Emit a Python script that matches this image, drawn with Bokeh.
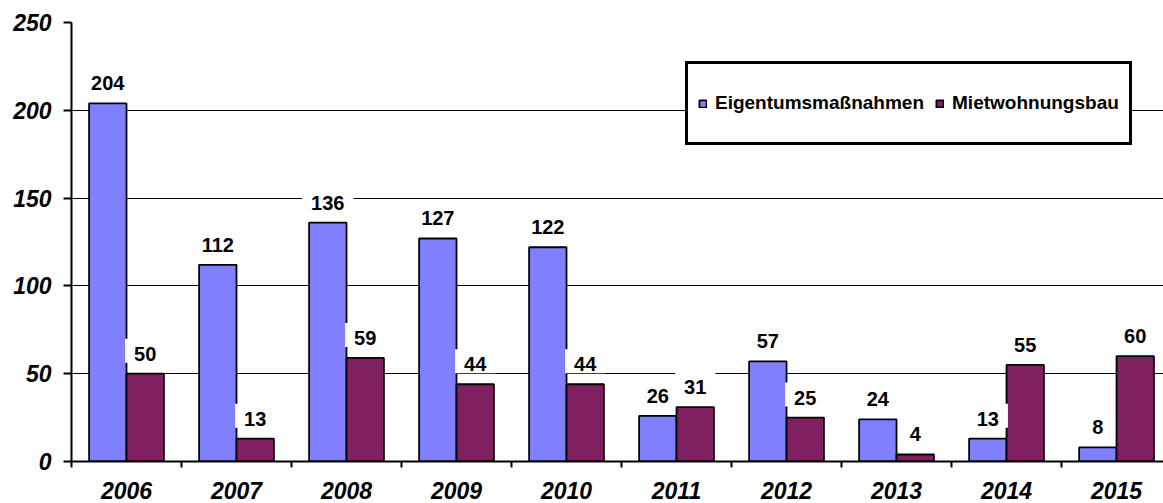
from bokeh.plotting import figure
from bokeh.models import Range1d, FixedTicker, ColumnDataSource, Legend, LegendItem
from bokeh.core.properties import value
from bokeh.embed import file_html
from bokeh.resources import INLINE

years = ["2006", "2007", "2008", "2009", "2010", "2011", "2012", "2013", "2014", "2015"]
eigentum = [204, 112, 136, 127, 122, 26, 57, 24, 13, 8]
miete = [50, 13, 59, 44, 44, 31, 25, 4, 55, 60]
series_names = ["Eigentumsmaßnahmen", "Mietwohnungsbau"]
y_ticks = [0, 50, 100, 150, 200, 250]

BLUE = "#8080FF"
MAROON = "#812060"
FONT = "Liberation Sans"

n = len(years)
centers = [i + 0.5 for i in range(n)]
bw = 0.34

src = ColumnDataSource(dict(
    x1=[c - bw / 2 for c in centers],
    x2=[c + bw / 2 for c in centers],
    e=eigentum,
    m=miete,
    el=[str(v) for v in eigentum],
    ml=[str(v) for v in miete],
))

p = figure(width=1163, height=503, x_range=Range1d(0, n - 0.073), y_range=Range1d(0, 250),
           output_backend="svg", toolbar_location=None,
           min_border_left=71, min_border_right=0, min_border_top=22, min_border_bottom=42)
p.outline_line_color = None
p.xgrid.visible = False
p.ygrid.grid_line_color = "black"
p.ygrid.grid_line_width = 1

# y axis
p.yaxis.ticker = FixedTicker(ticks=y_ticks)
p.yaxis.axis_line_width = 2
p.yaxis.axis_line_color = "black"
p.yaxis.major_tick_out = 8
p.yaxis.major_tick_in = 0
p.yaxis.major_tick_line_width = 2
p.yaxis.minor_tick_out = 0
p.yaxis.minor_tick_in = 0
p.yaxis.major_label_standoff = 12
p.yaxis.major_label_text_font = FONT
p.yaxis.major_label_text_font_style = "bold italic"
p.yaxis.major_label_text_font_size = "23px"
p.yaxis.major_label_text_color = "black"

# x axis
p.xaxis.ticker = FixedTicker(ticks=centers, minor_ticks=list(range(n + 1)))
p.xaxis.major_label_overrides = {c: y for c, y in zip(centers, years)}
p.xaxis.axis_line_width = 2
p.xaxis.axis_line_color = "black"
p.xaxis.major_tick_out = 0
p.xaxis.major_tick_in = 0
p.xaxis.minor_tick_out = 6
p.xaxis.minor_tick_in = 0
p.xaxis.minor_tick_line_width = 2
p.xaxis.minor_tick_line_color = "black"
p.xaxis.major_label_standoff = 14
p.xaxis.major_label_text_font = FONT
p.xaxis.major_label_text_font_style = "bold italic"
p.xaxis.major_label_text_font_size = "23px"
p.xaxis.major_label_text_color = "black"

r1 = p.vbar(x="x1", top="e", width=bw, bottom=0, source=src, fill_color=BLUE, line_color="black", line_width=1.8)
r2 = p.vbar(x="x2", top="m", width=bw, bottom=0, source=src, fill_color=MAROON, line_color="black", line_width=1.8)

pad = dict(left=9, right=9, top=8, bottom=2)
for xcol, ycol, tcol in (("x1", "e", "el"), ("x2", "m", "ml")):
    p.text(x=xcol, y=ycol, text=tcol, source=src, text_font=value(FONT), text_font_style="bold",
           text_font_size="20px", text_color="black", text_align="center", text_baseline="alphabetic",
           y_offset=-23, background_fill_color="white", padding=pad)

legend = Legend(items=[LegendItem(label=series_names[0], renderers=[r1]),
                       LegendItem(label=series_names[1], renderers=[r2])],
                orientation="horizontal", location=(614, 316),
                glyph_width=9, glyph_height=9, label_standoff=8, spacing=11, padding=10,
                label_height=58, border_line_color="black", border_line_width=3, border_line_alpha=1.0,
                label_text_font=FONT, label_text_font_size="19px", label_text_font_style="bold",
                label_text_color="black",
                background_fill_color="white", background_fill_alpha=1.0)
p.add_layout(legend)

open("out.html", "w").write(file_html(p, INLINE))
